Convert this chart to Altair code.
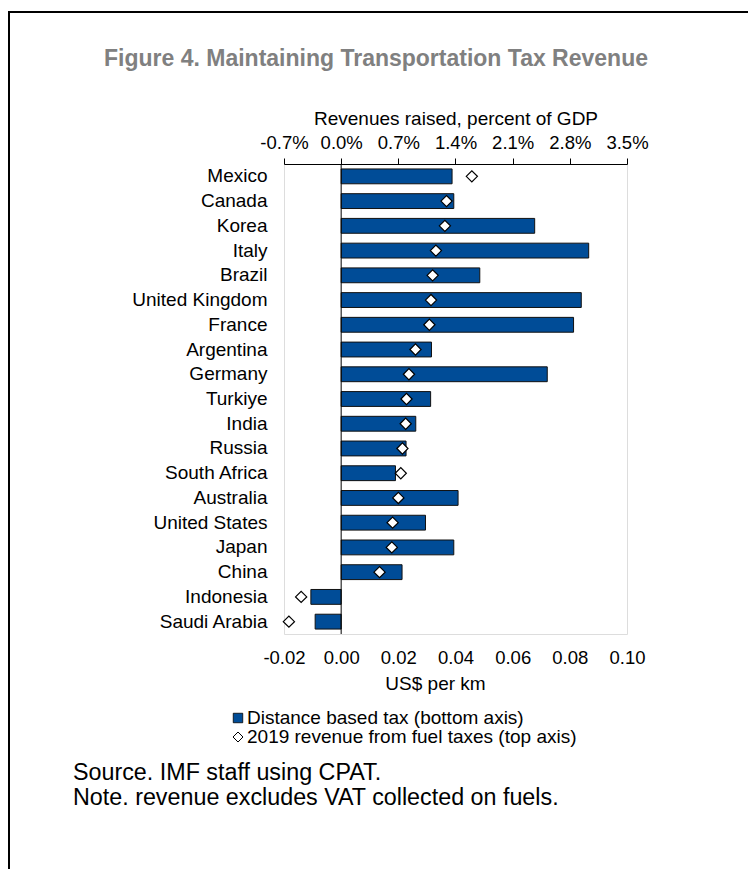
import altair as alt
import pandas as pd

countries = ["Mexico", "Canada", "Korea", "Italy", "Brazil", "United Kingdom", "France",
             "Argentina", "Germany", "Turkiye", "India", "Russia", "South Africa",
             "Australia", "United States", "Japan", "China", "Indonesia", "Saudi Arabia"]
distance_tax = [0.0388, 0.0394, 0.0677, 0.0866, 0.0485, 0.0840, 0.0813,
                0.0316, 0.0721, 0.0313, 0.0261, 0.0227, 0.0190,
                0.0409, 0.0295, 0.0394, 0.0213, -0.0106, -0.0091]
fuel_revenue_pct = [1.60, 1.29, 1.27, 1.16, 1.12, 1.10, 1.08,
                    0.91, 0.83, 0.80, 0.79, 0.75, 0.73,
                    0.70, 0.63, 0.62, 0.47, -0.49, -0.64]
bottom_ticks = [-0.02, 0.0, 0.02, 0.04, 0.06, 0.08, 0.10]
top_ticks = [-0.7, 0.0, 0.7, 1.4, 2.1, 2.8, 3.5]

title_text = "Figure 4. Maintaining Transportation Tax Revenue"
legend_bar = "Distance based tax (bottom axis)"
legend_pt = "2019 revenue from fuel taxes (top axis)"
source_text = "Source. IMF staff using CPAT."
note_text = "Note. revenue excludes VAT collected on fuels."

df = pd.DataFrame({"country": countries, "tax": distance_tax, "rev": fuel_revenue_pct})

FONT = "Liberation Sans"
BLUE = "#004C97"
W, H = 343, 470
PL, PT = 276, 156

yenc = alt.Y("country:N", sort=countries, title=None,
             scale=alt.Scale(paddingInner=0.4, paddingOuter=0.2),
             axis=alt.Axis(ticks=False, domain=False, labelPadding=17,
                           labelFontSize=19, labelFont=FONT, labelColor="black"))

bars = alt.Chart(df).mark_bar(color=BLUE, stroke="#111111", strokeWidth=1).encode(
    x=alt.X("tax:Q", scale=alt.Scale(domain=[-0.02, 0.10], nice=False, zero=False),
            axis=alt.Axis(orient="bottom", values=bottom_ticks, grid=False, domain=False,
                          ticks=False, labelPadding=14, labelFontSize=18.5, labelFont=FONT,
                          labelColor="black", labelFlush=False, labelOverlap=False,
                          title="US$ per km", titleFontSize=19,
                          titleFont=FONT, titleFontWeight="normal", titlePadding=8,
                          titleColor="black", titleX=151,
                          labelExpr="datum.value < 0 ? '-' + format(-datum.value, '.2f') : format(datum.value, '.2f')")),
    y=yenc,
)

zero_rule = alt.Chart(pd.DataFrame({"z": [0.0]})).mark_rule(color="black", strokeWidth=1).encode(
    x=alt.X("z:Q", scale=alt.Scale(domain=[-0.02, 0.10], nice=False, zero=False), axis=None)
)

points = alt.Chart(df).mark_point(shape="diamond", filled=True, fill="white", stroke="black",
                                  strokeWidth=1.2, size=125, opacity=1).encode(
    x=alt.X("rev:Q", scale=alt.Scale(domain=[-0.7, 3.5], nice=False, zero=False),
            axis=alt.Axis(orient="top", values=top_ticks, grid=False, domain=True,
                          domainColor="black", tickColor="black", ticks=True, tickSize=6,
                          labelPadding=6, labelFontSize=18.5, labelFont=FONT, labelColor="black",
                          labelFlush=False, labelOverlap=False,
                          title="Revenues raised, percent of GDP", titleFontSize=19,
                          titleFont=FONT, titleFontWeight="normal", titlePadding=5,
                          titleColor="black",
                          labelExpr="(datum.value < 0 ? '-' + format(-datum.value, '.1f') : format(datum.value, '.1f')) + '%'")),
    y=alt.Y("country:N", sort=countries),
)

def txt(s, x, y, size, align="left", weight="normal", color="black"):
    return alt.Chart(pd.DataFrame({"t": [s]})).mark_text(
        align=align, baseline="middle", fontSize=size, font=FONT, fontWeight=weight, color=color
    ).encode(text="t:N", x=alt.value(x - 284), y=alt.value(y - 164))

frame = alt.Chart(pd.DataFrame({"t": [0]})).mark_rect(
    filled=False, stroke="black", strokeWidth=2, fill=None).encode(
    x=alt.value(9 - 284), x2=alt.value(1200), y=alt.value(12 - 164), y2=alt.value(1200))

leg_sq = alt.Chart(pd.DataFrame({"t": [0]})).mark_point(
    shape="square", filled=True, fill=BLUE, stroke="black", strokeWidth=0.8, size=90, opacity=1
).encode(x=alt.value(238 - 284), y=alt.value(718 - 164))
leg_dm = alt.Chart(pd.DataFrame({"t": [0]})).mark_point(
    shape="diamond", filled=True, fill="white", stroke="black", strokeWidth=1, size=100, opacity=1
).encode(x=alt.value(238 - 284), y=alt.value(737 - 164))

chart = alt.layer(
    frame, bars, zero_rule, points,
    txt(title_text, 376, 59, 23, align="center", weight="bold", color="#808080"),
    leg_sq, leg_dm,
    txt(legend_bar, 247, 718, 19),
    txt(legend_pt, 247, 737, 19),
    txt(source_text, 73, 773, 23.3),
    txt(note_text, 73, 798, 23.3),
).resolve_scale(x="independent").properties(
    width=W, height=H,
    autosize=alt.AutoSizeParams(type="none"),
    padding={"left": PL, "top": PT, "right": 756 - 16 - PL - W, "bottom": 877 - 16 - PT - H},
).configure_view(stroke="black", strokeWidth=1).configure(background="white")

chart.save("out.html", embed_options={"renderer": "svg", "actions": False})
